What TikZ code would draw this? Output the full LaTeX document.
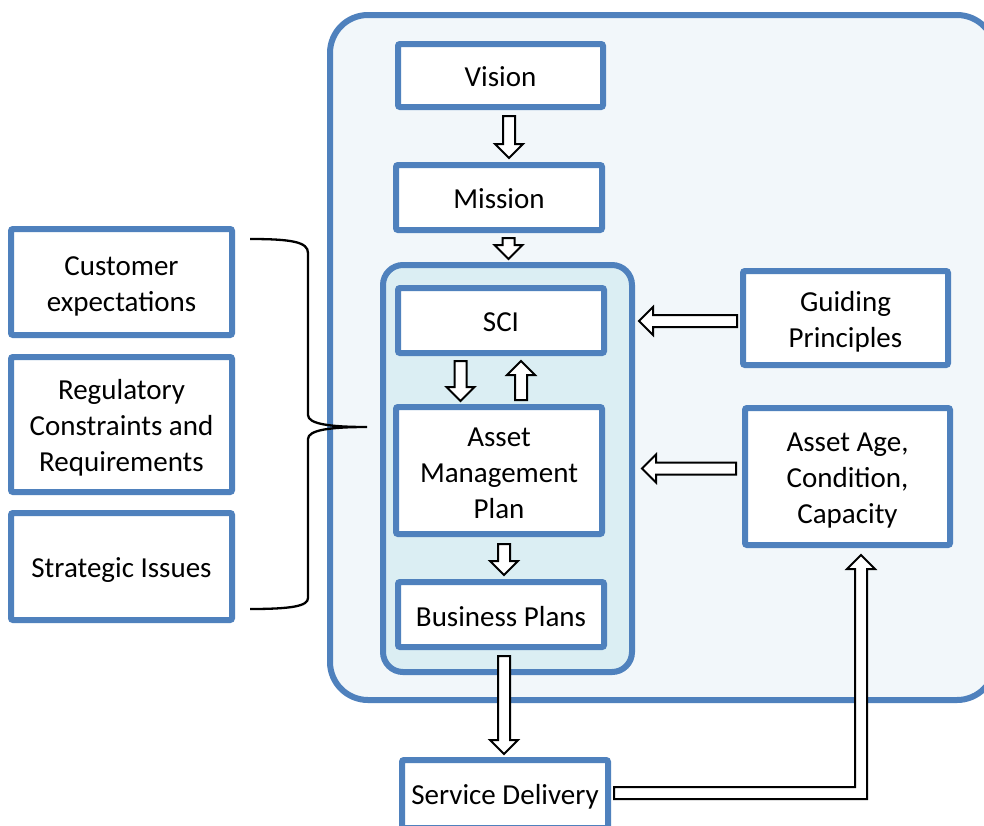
\documentclass[tikz,border=0pt]{standalone}
\usepackage{fontspec}
\setmainfont{Carlito}
\usetikzlibrary{calc}
\definecolor{bstroke}{HTML}{4F81BD}
\definecolor{outerfill}{HTML}{F2F7FA}
\definecolor{innerfill}{HTML}{DBEEF3}
\def\sw{6pt}
\def\hw{14pt}
\def\hl{14pt}
\newcommand\tx[2][0.5pt]{\raisebox{-#1}[\height][\depth]{\begin{tabular}{@{}c@{}}#2\end{tabular}}}
\newcommand\downarr[2]{\draw[barrow] let \p1=#1, \p2=#2 in
  (\x1-\sw,\y1) -- (\x1-\sw,\y2+\hl) -- (\x1-\hw,\y2+\hl) -- (\x1,\y2) -- (\x1+\hw,\y2+\hl) -- (\x1+\sw,\y2+\hl) -- (\x1+\sw,\y1) -- cycle;}
\newcommand\uparr[2]{\draw[barrow] let \p1=#1, \p2=#2 in
  (\x1-\sw,\y1) -- (\x1-\sw,\y2-\hl) -- (\x1-\hw,\y2-\hl) -- (\x1,\y2) -- (\x1+\hw,\y2-\hl) -- (\x1+\sw,\y2-\hl) -- (\x1+\sw,\y1) -- cycle;}
\newcommand\leftarr[2]{\draw[barrow] let \p1=#1, \p2=#2 in
  (\x1,\y1+\sw) -- (\x2+\hl,\y1+\sw) -- (\x2+\hl,\y1+\hw) -- (\x2,\y1) -- (\x2+\hl,\y1-\hw) -- (\x2+\hl,\y1-\sw) -- (\x1,\y1-\sw) -- cycle;}
\newcommand\bentarr[2]{\draw[barrow] let \p1=#1, \p2=#2 in
  (\x1,\y1+\sw) -- (\x2-\sw,\y1+\sw) -- (\x2-\sw,\y2-\hl) -- (\x2-\hw,\y2-\hl) -- (\x2,\y2) -- (\x2+\hw,\y2-\hl) -- (\x2+\sw,\y2-\hl) -- (\x2+\sw,\y1-\sw) -- (\x1,\y1-\sw) -- cycle;}
\tikzset{
  box/.style={draw=bstroke, fill=white, line width=6pt, rounded corners=2pt, inner sep=0pt,
    font=\fontsize{29}{36}\selectfont},
  barrow/.style={draw=black, fill=white, line width=2pt, line join=miter},
  container/.style={draw=bstroke, line width=6pt},
  bracestyle/.style={draw=black, line width=2.3pt}
}
\begin{document}
\begin{tikzpicture}[x=1pt,y=-1pt]
\clip (0,0) rectangle (984,825);
\fill[white] (0,0) rectangle (984,825);
% containers
\draw[container, fill=outerfill, rounded corners=38pt] (330,15) rectangle (995,700);
\draw[container, fill=innerfill, rounded corners=20pt] (383,265) rectangle (632,672);
% boxes
\node[box, minimum width=205pt, minimum height=63pt] (vision) at (500.5,75.5) {\tx[3.5pt]{Vision}};
\node[box, minimum width=206pt, minimum height=65pt] (mission) at (499,197.5) {\tx[3.5pt]{Mission}};
\node[box, minimum width=206pt, minimum height=65pt] (sci) at (501,320.5) {\tx[4pt]{SCI}};
\node[box, minimum width=206pt, minimum height=127pt] (amp) at (499,470.5) {\tx[5pt]{Asset\\Management\\Plan}};
\node[box, minimum width=206pt, minimum height=65pt] (bp) at (501,614.5) {\tx[5pt]{Business Plans}};
\node[box, minimum width=206pt, minimum height=68pt] (sd) at (505,794) {\tx[3.5pt]{Service Delivery}};
\node[box, minimum width=205pt, minimum height=94pt] (guide) at (845.5,318) {\tx[4pt]{Guiding\\Principles}};
\node[box, minimum width=205pt, minimum height=137pt] (age) at (847.5,476.5) {\tx[3.5pt]{Asset Age,\\Condition,\\Capacity}};
\node[box, minimum width=221pt, minimum height=106pt] (cust) at (121.5,282) {\tx[4.5pt]{Customer\\expectations}};
\node[box, minimum width=221pt, minimum height=135pt] (reg) at (121.5,424.5) {\tx[4pt]{Regulatory\\Constraints and\\Requirements}};
\node[box, minimum width=221pt, minimum height=107pt] (strat) at (121.5,566.5) {\tx[3.5pt]{Strategic Issues}};
% brace
\coordinate (bracetip) at (367,427);
\draw[bracestyle] (250,239) .. controls (292,239) and (308,242) .. (308,253) -- (308,415)
  .. controls (308,424) and (330,427) .. (bracetip)
  .. controls (330,427) and (308,430) .. (308,439) -- (308,598)
  .. controls (308,606) and (292,609) .. (250,609);
% block arrows
\downarr{([shift={(8.5,6)}]vision.south)}{([shift={(10,-4)}]mission.north)}
\downarr{([shift={(9.5,5)}]mission.south)}{([shift={(7.5,-26)}]sci.north)}
\downarr{([shift={(-40.5,5)}]sci.south)}{([shift={(-38.5,-3)}]amp.north)}
\uparr{([shift={(22,-4)}]amp.north)}{([shift={(20,5)}]sci.south)}
\downarr{([shift={(5,7)}]amp.south)}{([shift={(3,-4)}]bp.north)}
\downarr{([shift={(3,6)}]bp.south)}{([shift={(-1,-3)}]sd.north)}
\leftarr{([shift={(-3,3)}]guide.west)}{([shift={(32,0)}]sci.east)}
\leftarr{([shift={(-6,-8)}]age.west)}{([shift={(37,0)}]amp.east)}
\bentarr{([shift={(3,-1)}]sd.east)}{([shift={(13.5,7)}]age.south)}
\end{tikzpicture}
\end{document}
